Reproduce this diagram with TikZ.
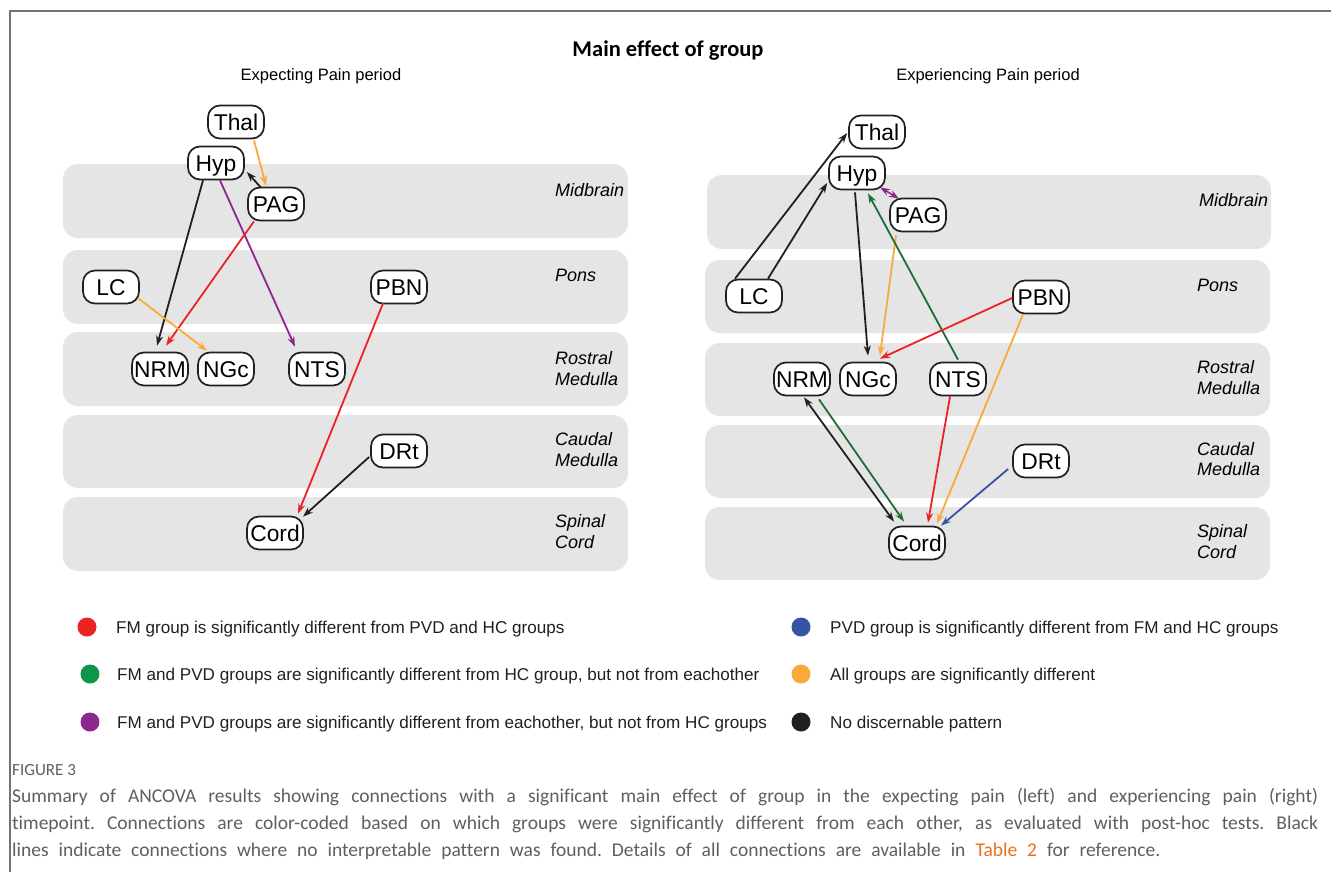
\documentclass[tikz,border=0pt]{standalone}
\usepackage{fontspec}
\setmainfont{Liberation Sans}
\newfontfamily\carl[Ligatures={NoCommon}]{Carlito}
\usetikzlibrary{arrows.meta,calc}
\frenchspacing
\definecolor{bandgray}{RGB}{229,229,229}
\definecolor{lred}{RGB}{237,34,36}
\definecolor{lgreen}{RGB}{30,110,55}
\definecolor{ggreen}{RGB}{14,150,72}
\definecolor{lpurple}{RGB}{142,38,144}
\definecolor{lblue}{RGB}{57,83,164}
\definecolor{lorange}{RGB}{250,170,58}
\definecolor{lblack}{RGB}{35,31,32}
\definecolor{capgray}{RGB}{95,95,95}
\definecolor{taborange}{RGB}{232,115,30}
\tikzset{
  nd/.style={draw=lblack, line width=1.7pt, fill=white, rounded corners=12pt,
    minimum width=56pt, minimum height=33pt, inner sep=0pt,
    text height=16.3pt, text depth=0pt, font=\fontsize{22.8}{24}\selectfont},
  ed/.style={line width=1.8pt, -{Stealth[length=10pt,width=7pt]}},
  bed/.style={line width=1.8pt, {Stealth[length=10pt,width=7pt]}-{Stealth[length=10pt,width=7pt]}},
  band/.style={fill=bandgray, rounded corners=15pt},
  blab/.style={anchor=west, inner sep=0pt, align=left, font=\fontsize{18}{20.5}\selectfont\itshape},
  legdot/.style={circle, inner sep=0pt, minimum size=19pt},
  legt/.style={anchor=base west, inner sep=0pt, font=\fontsize{17.1}{20}\selectfont, text=lblack},
  capt/.style={anchor=base west, inner sep=0pt, text=capgray, font=\carl\frenchspacing\fontsize{19.5}{27}\selectfont},
}
\begin{document}
\begin{tikzpicture}[x=1pt,y=-1pt]
\useasboundingbox (0,0) rectangle (1331,872);
\fill[white] (0,0) rectangle (1331,872);
% frame
\draw[line width=1.5pt, black!55] (10,872) -- (10,11) -- (1331,11);

% titles
\node[anchor=base, inner sep=0pt, font=\carl\bfseries\fontsize{22.5}{26}\selectfont] (title) at (668,57) {Main effect of group};
\node[anchor=base, inner sep=0pt, font=\fontsize{16.5}{19}\selectfont] (subL) at (321,81) {Expecting Pain period};
\node[anchor=base, inner sep=0pt, font=\fontsize{16.5}{19}\selectfont] (subR) at (988,81) {Experiencing Pain period};

% left bands
\fill[band] (63,164) rectangle (628,238);
\fill[band] (63,250) rectangle (628,324);
\fill[band] (63,332) rectangle (628,406);
\fill[band] (63,415) rectangle (628,488);
\fill[band] (63,497) rectangle (628,571);
\node[blab] (lb1) at (555,190) {Midbrain};
\node[blab] (lb2) at (555,275) {Pons};
\node[blab] (lb3) at (555,368.5) {Rostral\\Medulla};
\node[blab] (lb4) at (555,449.5) {Caudal\\Medulla};
\node[blab] (lb5) at (555,531.5) {Spinal\\Cord};

% right bands
\fill[band] (707,175) rectangle (1271,249);
\fill[band] (705,260) rectangle (1270,333);
\fill[band] (705,343) rectangle (1270,416);
\fill[band] (705,425) rectangle (1270,498);
\fill[band] (705,507) rectangle (1270,580);
\node[blab] (rb1) at (1199,200) {Midbrain};
\node[blab] (rb2) at (1197,285) {Pons};
\node[blab] (rb3) at (1197,377.5) {Rostral\\Medulla};
\node[blab] (rb4) at (1197,459) {Caudal\\Medulla};
\node[blab] (rb5) at (1197,541.5) {Spinal\\Cord};

% left nodes
\node[nd] (LThal) at (236,122) {Thal};
\node[nd] (LHyp) at (216,163) {Hyp};
\node[nd] (LPAG) at (276,204) {PAG};
\node[nd] (LLC) at (111,287) {LC};
\node[nd] (LPBN) at (399,287) {PBN};
\node[nd] (LNRM) at (160,369) {NRM};
\node[nd] (LNGc) at (226,369) {NGc};
\node[nd] (LNTS) at (317,369) {NTS};
\node[nd] (LDRt) at (399,451) {DRt};
\node[nd] (LCord) at (275,533) {Cord};

% left edges
\draw[ed, lorange] ($(LThal.south)+(18,1)$) -- ($(LPAG.north)+(-10,-1)$);
\draw[ed, lblack] ($(LPAG.north)+(-15,1)$) -- ($(LHyp.east)+(2,9)$);
\draw[ed, lblack] ($(LHyp.south)+(-13,0)$) -- ($(LNRM.north)+(-3,-6)$);
\draw[ed, lpurple] ($(LHyp.south)+(4,0)$) -- ($(LNTS.north)+(-22,-5)$);
\draw[ed, lred] ($(LPAG.south)+(-22,0)$) -- ($(LNRM.north)+(6,-6)$);
\draw[ed, lorange] ($(LLC.east)+(-2,11)$) -- ($(LNGc.north)+(-19,-1)$);
\draw[ed, lred] ($(LPBN.south)+(-16,-1)$) -- ($(LCord.north)+(23,-2)$);
\draw[ed, lblack] ($(LDRt.west)+(-1,6)$) -- ($(LCord.north)+(28,1)$);

% right nodes
\node[nd] (RThal) at (877,132) {Thal};
\node[nd] (RHyp) at (857,173) {Hyp};
\node[nd] (RPAG) at (918,215) {PAG};
\node[nd] (RLC) at (754,296) {LC};
\node[nd] (RPBN) at (1041,297) {PBN};
\node[nd] (RNRM) at (802,379) {NRM};
\node[nd] (RNGc) at (868,379) {NGc};
\node[nd] (RNTS) at (958,379) {NTS};
\node[nd] (RDRt) at (1041,461) {DRt};
\node[nd] (RCord) at (917,543) {Cord};

% right edges
\draw[ed, lblack] ($(RLC.north)+(-19,0)$) -- ($(RThal.west)+(-1,1)$);
\draw[ed, lblack] ($(RLC.north)+(14,0)$) -- ($(RHyp.west)+(-1,10)$);
\draw[bed, lpurple, line width=1.6pt] ($(RHyp.south)+(23,-3)$) -- ($(RPAG.north)+(-19,1)$);
\draw[ed, lblack] ($(RHyp.south)+(-2,2)$) -- ($(RNGc.north)+(0,-6)$);
\draw[ed, lorange] ($(RPAG.south)+(-22,3)$) -- ($(RNGc.north)+(12,-6)$);
\draw[ed, lgreen] ($(RNTS.north)+(0,-2)$) -- ($(RHyp.south)+(11,3)$);
\draw[ed, lred] ($(RPBN.west)+(0,1)$) -- ($(RNGc.north)+(12,-3)$);
\draw[bed, lblack] ($(RNRM.south)+(2,1)$) -- ($(RCord.north)+(-23,-4)$);
\draw[ed, lgreen] ($(RNRM.south)+(17,3)$) -- ($(RCord.north)+(-13,-4)$);
\draw[ed, lred] ($(RNTS.south)+(-8,0)$) -- ($(RCord.north)+(11,-3)$);
\draw[ed, lorange] ($(RPBN.south)+(-18,0)$) -- ($(RCord.north)+(20,-2)$);
\draw[ed, lblue] ($(RDRt.west)+(-4,8)$) -- ($(RCord.north)+(24,0)$);

% legend
\node[legdot, fill=lred] (d1) at (87,627) {};
\node[legdot, fill=ggreen] (d2) at (90,674) {};
\node[legdot, fill=lpurple] (d3) at (90,722) {};
\node[legdot, fill=lblue] (d4) at (801,627) {};
\node[legdot, fill=lorange] (d5) at (801,674) {};
\node[legdot, fill=lblack] (d6) at (801,722) {};
\node[legt] (t1) at (116,633) {FM group is significantly different from PVD and HC groups};
\node[legt] (t2) at (117,680) {FM and PVD groups are significantly different from HC group, but not from eachother};
\node[legt] (t3) at (117,728) {FM and PVD groups are significantly different from eachother, but not from HC groups};
\node[legt] (t4) at (830,633) {PVD group is significantly different from FM and HC groups};
\node[legt] (t5) at (830,680) {All groups are significantly different};
\node[legt] (t6) at (830,728) {No discernable pattern};

% caption
\node[anchor=base west, inner sep=0pt, text=capgray, font=\carl\fontsize{17}{19}\selectfont] (fig) at (12,775) {FIGURE 3};
\node[capt] (c1) at (12,802)
  {\makebox[1306pt][s]{Summary of ANCOVA results showing connections with a significant main effect of group in the expecting pain (left) and experiencing pain (right)}};
\node[capt] (c2) at (12,829)
  {\makebox[1306pt][s]{timepoint. Connections are color-coded based on which groups were significantly different from each other, as evaluated with post-hoc tests. Black}};
\node[capt] (c3) at (12,856)
  {\makebox[1148pt][s]{lines indicate connections where no interpretable pattern was found. Details of all connections are available in \textcolor{taborange}{Table 2} for reference.}};
\end{tikzpicture}
\end{document}
